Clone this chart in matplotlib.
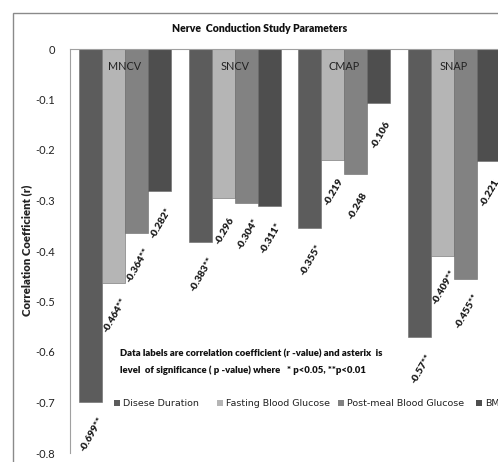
import matplotlib
matplotlib.use("Agg")
import matplotlib.pyplot as plt
import numpy as np
from matplotlib.patches import Rectangle

categories = ["MNCV", "SNCV", "CMAP", "SNAP"]
series_names = ["Disese Duration", "Fasting Blood Glucose", "Post-meal Blood Glucose", "BMI"]
disease_duration = [-0.699, -0.383, -0.355, -0.57]
fasting_glucose = [-0.464, -0.296, -0.219, -0.409]
postmeal_glucose = [-0.364, -0.304, -0.248, -0.455]
bmi = [-0.282, -0.311, -0.106, -0.221]
labels_dd = ["-0.699**", "-0.383**", "-0.355*", "-0.57**"]
labels_fg = ["-0.464**", "-0.296", "-0.219", "-0.409**"]
labels_pm = ["-0.364**", "-0.304*", "-0.248", "-0.455**"]
labels_bmi = ["-0.282*", "-0.311*", "-0.106", "-0.221"]
yticks = [0, -0.1, -0.2, -0.3, -0.4, -0.5, -0.6, -0.7, -0.8]

series = [disease_duration, fasting_glucose, postmeal_glucose, bmi]
series_labels = [labels_dd, labels_fg, labels_pm, labels_bmi]
colors = ["#5c5c5c", "#b5b5b5", "#828282", "#4e4e4e"]

W, H = 498, 462
fig = plt.figure(figsize=(W / 100, H / 100), dpi=100)
fig.patch.set_facecolor("white")

# outer chart frame
fig.patches.append(Rectangle((13 / W, -0.1), 1.2, 1 - 13 / H + 0.1, transform=fig.transFigure,
                             fill=False, edgecolor="#8a8a8a", linewidth=1.0))

left, right = 70 / W, 509 / W
top, bottom = 1 - 49 / H, 1 - 453 / H
ax = fig.add_axes([left, bottom, right - left, top - bottom])

x = np.arange(len(categories))
bw = 0.21
offsets = (np.arange(4) - 1.5) * bw
for i, (vals, labs) in enumerate(zip(series, series_labels)):
    ax.bar(x + offsets[i], vals, width=bw, color=colors[i], edgecolor="#6a6a6a",
           linewidth=0.4, label=series_names[i], zorder=2)
    for xi, v, lab in zip(x + offsets[i], vals, labs):
        ax.annotate(lab, (xi, v), xytext=(1, -23), textcoords="offset points",
                    ha="center", va="center", rotation=60, fontsize=7.3,
                    fontweight="heavy", family="Lato", color="#1a1a1a")

for xi, c in zip(x, categories):
    ax.text(xi, -0.035, c, ha="center", va="center", fontsize=7.8, family="Lato", color="#222222")

ax.set_xlim(-0.5, 3.5)
ax.set_ylim(-0.8, 0)
ax.set_yticks(yticks)
ax.set_yticklabels(["0" if t == 0 else f"{t:.1f}" for t in yticks], family="Lato", fontsize=8)
ax.tick_params(axis="y", length=0, pad=11, colors="#222222")
ax.set_xticks([])
for s in ["right", "bottom"]:
    ax.spines[s].set_visible(False)
ax.spines["left"].set_color("#a0a0a0")
ax.spines["top"].set_color("#a0a0a0")
ax.spines["left"].set_linewidth(0.8)
ax.spines["top"].set_linewidth(0.8)

fig.text(260 / W, 1 - 29 / H, "Nerve  Conduction Study Parameters", ha="center", va="center",
         fontsize=7.6, fontweight="heavy", family="Lato", color="#111111")
fig.text(27 / W, 1 - 250 / H, "Correlation Coefficient (r)", ha="center", va="center",
         rotation=90, fontsize=8.2, fontweight="heavy", family="Lato", color="#222222")

fig.text(120 / W, 1 - 354 / H, "Data labels are correlation coefficient (r -value) and asterix  is",
         ha="left", va="center", fontsize=6.8, fontweight="heavy", family="Lato", color="#111111")
fig.text(120 / W, 1 - 370 / H, "level  of significance ( p -value) where   * p<0.05, **p<0.01",
         ha="left", va="center", fontsize=6.8, fontweight="heavy", family="Lato", color="#111111")

leg_x = [114, 217, 338, 476]
for lx, name, col in zip(leg_x, series_names, colors):
    fig.patches.append(Rectangle((lx / W, 1 - 406 / H), 6 / W, 6 / H, transform=fig.transFigure,
                                 facecolor=col, edgecolor="none"))
    fig.text((lx + 9) / W, 1 - 403 / H, name, ha="left", va="center", fontsize=6.8,
             family="DejaVu Sans", color="#222222")

fig.savefig("out.png", dpi=100)
